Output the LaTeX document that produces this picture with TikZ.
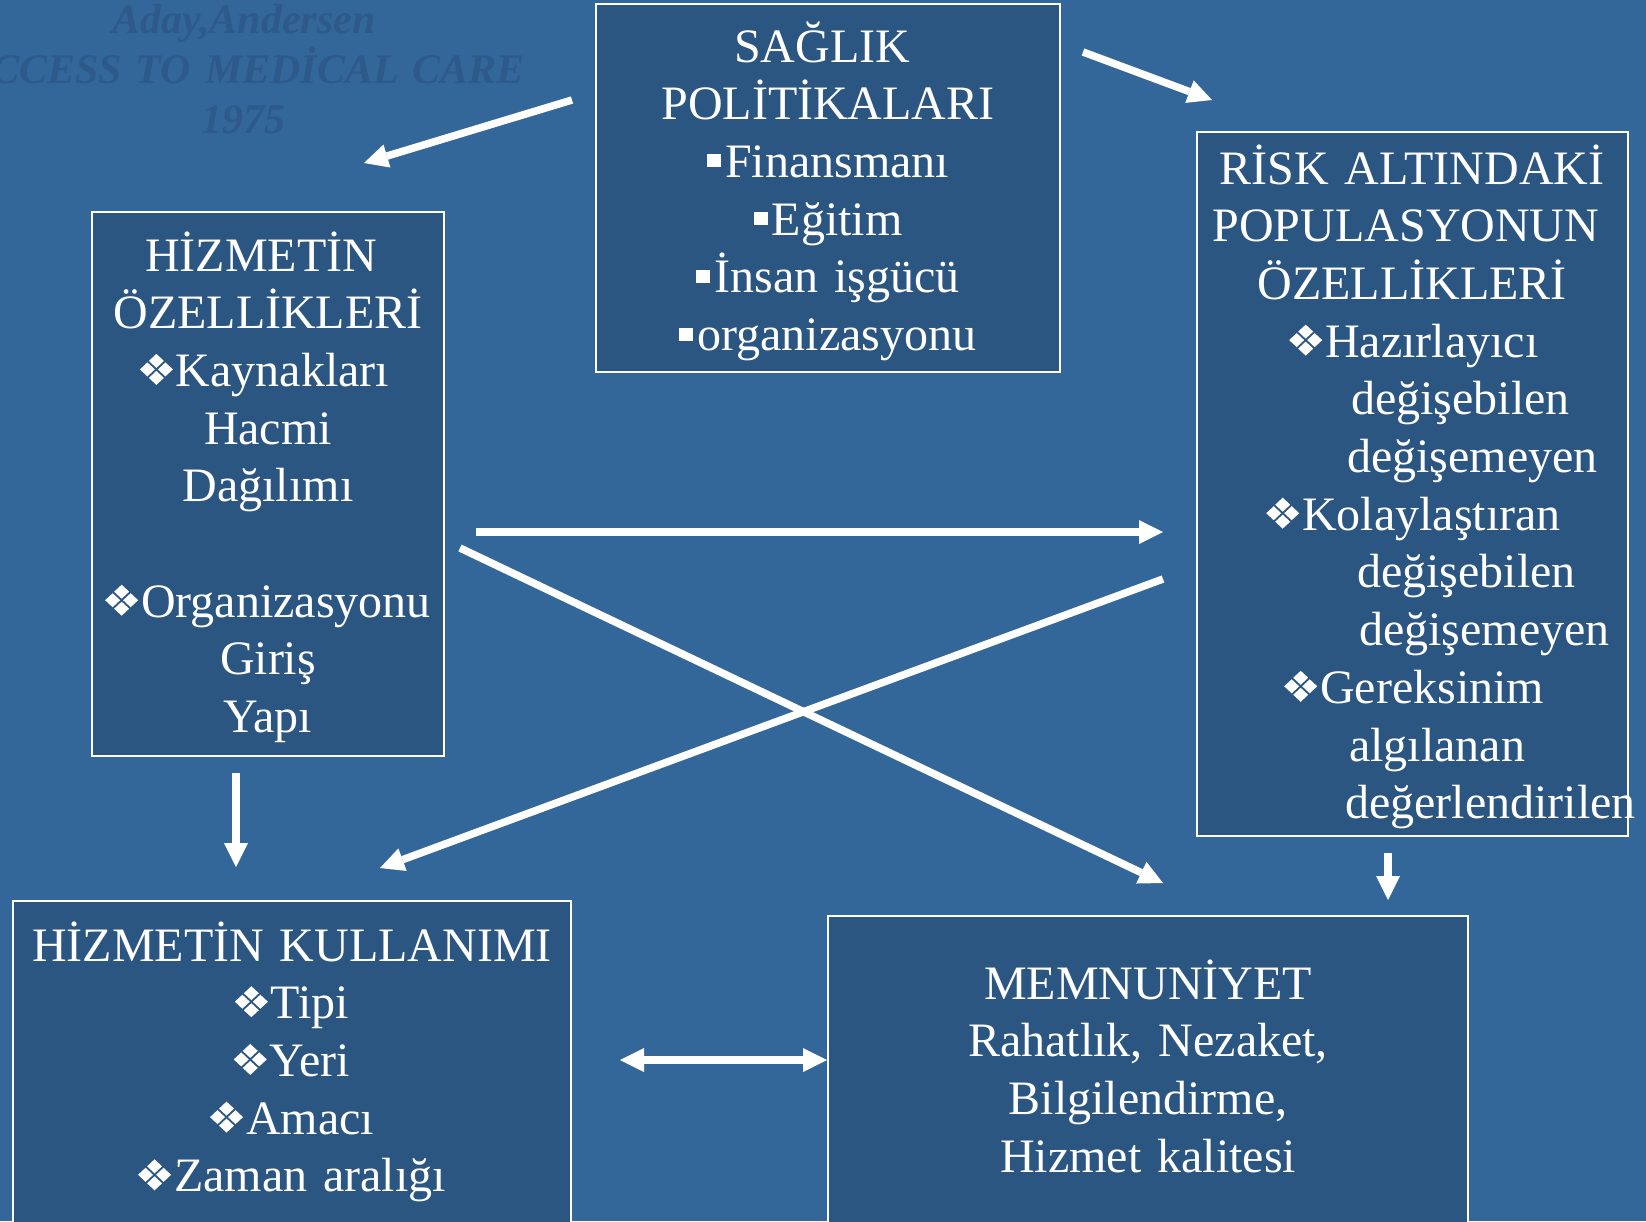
\documentclass[tikz,border=0pt]{standalone}
\usepackage{fontspec}
\setmainfont{Liberation Serif}
\usetikzlibrary{arrows.meta}

\definecolor{slidebg}{HTML}{336699}
\definecolor{boxfill}{HTML}{2C5682}
\definecolor{faint}{HTML}{2D5A8B}

% four-diamond bullet
\newcommand\dbul{\tikz[baseline=0pt,x=1pt,y=1pt]{%
  \foreach \cx/\cy in {16.5/25.5,16.5/8.5,7.5/17,25.5/17}{%
    \fill[white] (\cx-7.5,\cy)--(\cx,\cy+7)--(\cx+7.5,\cy)--(\cx,\cy-7)--cycle;}}\hspace{3pt}}
% small square bullet
\newcommand\sbul{\rule[10pt]{14pt}{13pt}\hspace{4pt}}
% trailing blank kept at a centred line end
\newcommand\tspace[1]{\rule{#1}{0pt}}

\tikzset{
  panel/.style={draw=white, line width=1.5pt, fill=boxfill, inner sep=0pt},
  txt/.style={text=white, inner sep=0pt, align=center,
    font=\fontsize{48}{57.7}\selectfont},
  tipshape/.style={Triangle[length=24pt,width=24pt,line width=0pt]},
  arr/.style={white, line width=7.5pt, -{Triangle[length=24pt,width=24pt,line width=0pt]}},
  darr/.style={white, line width=7.5pt,
    {Triangle[length=24pt,width=24pt,line width=0pt]}-{Triangle[length=24pt,width=24pt,line width=0pt]}}
}

\begin{document}
\begin{tikzpicture}[x=1pt,y=-1pt]
\useasboundingbox (0,0) rectangle (1646,1221);
\fill[slidebg] (0,0) rectangle (1646,1221);

% faint source caption
\node[font=\bfseries\itshape\fontsize{42}{50}\selectfont, text=faint, align=center,
  text width=700pt, inner sep=0pt, anchor=base] (ttl) at (244,33)
  {Aday,Andersen\\ACCESS TO MEDİCAL CARE\\1975};

% panels
\node[panel, minimum width=464pt, minimum height=368pt] (pol) at (828,188) {};
\node[panel, minimum width=352pt, minimum height=544pt] (hiz) at (268,484) {};
\node[panel, minimum width=431pt, minimum height=704pt] (risk) at (1412.5,484) {};
\node[panel, minimum width=558pt, minimum height=322pt] (kul) at (292,1062) {};
\node[panel, minimum width=640pt, minimum height=307pt] (mem) at (1148,1069.5) {};

% panel texts
\node[txt, text width=460pt, anchor=base] (polt) at (828,62)
  {SAĞLIK\tspace{12pt}\\POLİTİKALARI\\\sbul Finansmanı\\\sbul Eğitim\\\sbul İnsan işgücü\\\sbul organizasyonu};

\node[txt, text width=350pt, anchor=base] (hizt) at (268,271)
  {HİZMETİN\tspace{14pt}\\ÖZELLİKLERİ\\\dbul Kaynakları\tspace{7pt}\\Hacmi\\Dağılımı\\\mbox{}\\\dbul Organizasyonu\\Giriş\\Yapı};

\node[txt, text width=430pt, anchor=base] (riskh) at (1412,184)
  {RİSK ALTINDAKİ\\POPULASYONUN\tspace{12pt}\\ÖZELLİKLERİ};
\node[txt, align=left, text width=390pt, anchor=base west] (riskl) at (1266,357.1)
  {\hspace*{23pt}\dbul Hazırlayıcı\\
   \hspace*{85pt}değişebilen\\
   \hspace*{81pt}değişemeyen\\
   \dbul Kolaylaştıran\\
   \hspace*{91pt}değişebilen\\
   \hspace*{93pt}değişemeyen\\
   \hspace*{18pt}\dbul Gereksinim\\
   \hspace*{83pt}algılanan\\
   \hspace*{79pt}değerlendirilen};

\node[txt, text width=550pt, anchor=base] (kult) at (292,961)
  {HİZMETİN KULLANIMI\\\dbul Tipi\\\dbul Yeri\\\dbul Amacı\\\dbul Zaman aralığı};

\node[txt, text width=630pt, anchor=base] (memt) at (1148,999)
  {MEMNUNİYET\\Rahatlık, Nezaket,\\Bilgilendirme,\\Hizmet kalitesi};

% arrow end points
\coordinate (p2hS) at (572,100);  \coordinate (p2hE) at (364,163);
\coordinate (p2rS) at (1083,52);  \coordinate (p2rE) at (1212,100);
\coordinate (h2rS) at (476,532);  \coordinate (h2rE) at (1163,532);
\coordinate (r2kS) at (1163,579); \coordinate (r2kE) at (380,868);
\coordinate (h2mS) at (460,548);  \coordinate (h2mE) at (1163,883);
\coordinate (h2kS) at (236,773);  \coordinate (h2kE) at (236,867);
\coordinate (r2mS) at (1388,853); \coordinate (r2mE) at (1388,900);
\coordinate (kmL) at (620,1060);  \coordinate (kmR) at (827,1060);

% arrows
\draw[arr] (p2hS) -- (p2hE);
\draw[arr] (p2rS) -- (p2rE);
\draw[arr] (h2rS) -- (h2rE);
\draw[arr] (r2kS) -- (r2kE);
\draw[arr] (h2mS) -- (h2mE);
\draw[arr] (h2kS) -- (h2kE);
\draw[arr] (r2mS) -- (r2mE);
\draw[darr] (kmL) -- (kmR);
\end{tikzpicture}
\end{document}
